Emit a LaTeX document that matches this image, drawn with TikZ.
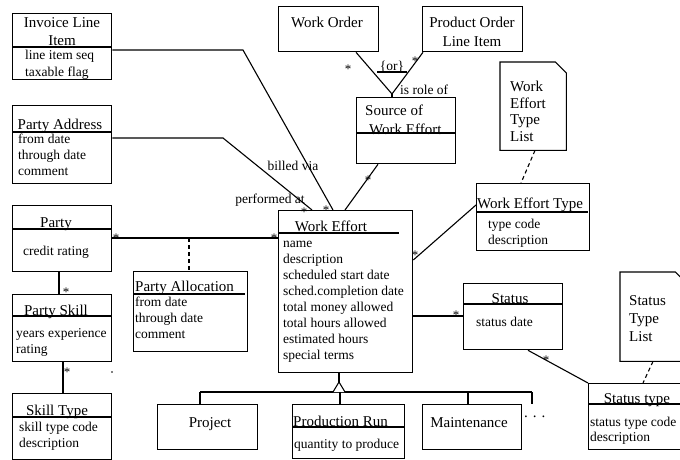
\documentclass[tikz,border=0pt]{standalone}
\usepackage{fontspec}
\setmainfont{Liberation Serif}
\usetikzlibrary{calc}
\begin{document}
\begin{tikzpicture}[x=1pt,y=-1pt,
  box/.style={draw, line width=1.3pt, anchor=north west, inner sep=0pt},
  ghost/.style={anchor=north west, inner sep=0pt},
  ttl/.style={font=\fontsize{15}{18}\selectfont, inner sep=0pt, anchor=base},
  ttlw/.style={font=\fontsize{15}{18}\selectfont, inner sep=0pt, anchor=base west},
  attr/.style={font=\fontsize{13.5}{16}\selectfont, inner sep=0pt, anchor=north west, align=left},
  lbl/.style={font=\fontsize{13.5}{16}\selectfont, inner sep=0pt, anchor=base},
  lnk/.style={line width=1.1pt},
  dsh/.style={line width=1.1pt, dash pattern=on 4pt off 3pt},
  mult/.style={font=\fontsize{13}{13}\selectfont, inner sep=0pt, anchor=base}]
\useasboundingbox (0,0) rectangle (680,460);

% ---------- boxes ----------
\node[box, minimum width=99pt, minimum height=66pt] (inv) at (12,13) {};
\draw[lnk] (inv.west |- 0,47) -- (inv.east |- 0,47);
\node[ttl] (invt1) at (62,28) {Invoice Line};
\node[ttl] (invt2) at (62,46) {Item};
\node[attr] (inva) at (25,47.8) {\strut line item seq\\[1pt]taxable flag};

\node[box, minimum width=99pt, minimum height=78pt] (pad) at (12,105) {};
\draw[lnk] (pad.west |- 0,132) -- (pad.east |- 0,132);
\node[ttl] (padt) at (60,129.5) {Party Address};
\node[attr] (pada) at (18,132) {\strut from date\\through date\\comment};

\node[box, minimum width=99pt, minimum height=66pt] (party) at (12,205) {};
\draw[lnk] (party.west |- 0,229) -- (party.east |- 0,229);
\node[ttl] (partyt) at (56,227) {Party};
\node[attr] (partya) at (23,243.8) {\strut credit rating};

\node[box, minimum width=99pt, minimum height=67pt] (pskill) at (12,294) {};
\draw[lnk] (pskill.west |- 0,316) -- (pskill.east |- 0,316);
\node[ttl] (pskillt) at (56,315) {Party Skill};
\node[attr] (pskilla) at (16,325.8) {\strut years experience\\rating};

\node[box, minimum width=99pt, minimum height=66pt] (stype) at (12,393) {};
\draw[lnk] (stype.west |- 0,417) -- (stype.east |- 0,417);
\node[ttl] (stypet) at (57,415) {Skill Type};
\node[attr] (stypea) at (19,419.8) {\strut skill type code\\description};

\node[box, minimum width=114pt, minimum height=80pt] (palloc) at (133,271) {};
\draw[lnk] (palloc.west |- 0,294) -- (245,294);
\node[ttlw] (pallct) at (135,291) {Party Allocation};
\node[attr] (pallca) at (135,294.8) {\strut from date\\through date\\comment};

\node[box, minimum width=100pt, minimum height=45pt] (wo) at (278,6) {};
\node[ttl] (wot) at (327,28) {Work Order};

\node[box, minimum width=100pt, minimum height=45pt] (pol) at (422,6) {};
\node[ttl] (polt1) at (472,28) {Product Order};
\node[ttl] (polt2) at (472,46.5) {Line Item};

\node[box, minimum width=99pt, minimum height=66pt] (src) at (356,97) {};
\draw[lnk] (src.west |- 0,133) -- (src.east |- 0,133);
\node[ttlw] (srct1) at (365,115) {Source of};
\node[ttlw] (srct2) at (369,134) {Work Effort};

\node[ghost, minimum width=66pt, minimum height=88pt] (wetl) at (500,62) {};
\draw[lnk] (wetl.north west) -- ($(wetl.north east)+(-11,0)$) -- ($(wetl.north east)+(0,11)$) -- (wetl.south east) -- (wetl.south west) -- cycle;
\node[ttlw] (wetl1) at (510,92) {Work};
\node[ttlw] (wetl2) at (510,108.3) {Effort};
\node[ttlw] (wetl3) at (510,124.6) {Type};
\node[ttlw] (wetl4) at (510,141) {List};

\node[box, minimum width=113pt, minimum height=67pt] (wet) at (476,183) {};
\draw[lnk] (wet.west |- 0,212) -- (588,212);
\node[ttlw] (wett) at (477,208) {Work Effort Type};
\node[attr] (weta) at (488,216.8) {\strut type code\\description};

\node[box, minimum width=134pt, minimum height=162pt] (we) at (278,210) {};
\draw[lnk] (we.west |- 0,233) -- (399,233);
\node[ttl] (wet1) at (331,231) {Work Effort};
\node[attr] (wea) at (283,235.8) {\strut name\\description\\scheduled start date\\sched.completion date\\total money allowed\\total hours allowed\\estimated hours\\special terms};

\node[box, minimum width=99pt, minimum height=66pt] (status) at (463,283) {};
\draw[lnk] (status.west |- 0,304) -- (status.east |- 0,304);
\node[ttl] (statust) at (510,303) {Status};
\node[attr] (statusa) at (476,314.8) {\strut status date};

\node[ghost, minimum width=66pt, minimum height=89pt] (stl) at (620,272) {};
\draw[lnk] (stl.north west) -- ($(stl.north east)+(-11,0)$) -- ($(stl.north east)+(0,11)$) -- (stl.south east) -- (stl.south west) -- cycle;
\node[ttlw] (stl1) at (629,305) {Status};
\node[ttlw] (stl2) at (629,323) {Type};
\node[ttlw] (stl3) at (629,341) {List};

\node[box, minimum width=98pt, minimum height=66pt] (sttype) at (588,383) {};
\draw[lnk] (sttype.west |- 0,404) -- (sttype.east |- 0,404);
\node[ttl] (sttypet) at (637,403) {Status type};
\node[attr] (sttypea) at (590,414.8) {\strut status type code\\[-1pt]description};

\node[box, minimum width=100pt, minimum height=45pt] (project) at (157,404) {};
\node[ttl] (projectt) at (210,427) {Project};

\node[box, minimum width=112pt, minimum height=54pt] (prun) at (292,404) {};
\draw[lnk] (prun.west |- 0,427) -- (prun.east |- 0,427);
\node[ttlw] (prunt) at (293,426) {Production Run};
\node[attr] (pruna) at (294,436.8) {\strut quantity to produce};

\node[box, minimum width=99pt, minimum height=45pt] (maint) at (422,404) {};
\node[ttl] (maintt) at (469,427) {Maintenance};

% ---------- connectors ----------
\draw[lnk] (inv.east |- 0,50) -- (243,50) -- (333,0 |- we.north);
\draw[lnk] (pad.east |- 0,138) -- (223,138) -- (312,0 |- we.north);
\draw[lnk] (party.east |- 0,238) -- (we.west |- 0,238);
\coordinate (pamid) at (189,238);
\draw[dsh] (pamid) -- (189,0 |- palloc.north);
\draw[lnk] (59,0 |- party.south) -- (59,0 |- pskill.north);
\draw[lnk] (63,0 |- pskill.south) -- (63,0 |- stype.north);

\coordinate (orjoin) at (392,94);
\draw[lnk] (356,0 |- wo.south) -- (orjoin);
\draw[lnk] (423,0 |- pol.south) -- (orjoin);
\draw[lnk] (orjoin) -- (392,0 |- src.north);
\coordinate (orl) at (377,72);
\coordinate (orr) at (407,72);
\draw[lnk] (orl) -- (orr);
\draw[lnk] (378,0 |- src.south) -- (345,0 |- we.north);

\draw[dsh] (535,0 |- wetl.south) -- (521,0 |- wet.north);
\draw[lnk] (we.east |- 0,260) -- (wet.west |- 0,205);
\draw[lnk] (we.east |- 0,316) -- (status.west |- 0,316);
\draw[lnk] (528,0 |- status.south) -- (sttype.north west);
\draw[dsh] (653,0 |- stl.south) -- (643,0 |- sttype.north);

% inheritance
\coordinate (tri) at (339,382);
\coordinate (hl) at (200,392);
\coordinate (hr) at (532,392);
\coordinate (more) at (532,404);
\draw[lnk] (339,0 |- we.south) -- (tri);
\draw[lnk] (hl) -- (hr);
\draw[lnk, fill=white] (333,392) -- (tri) -- (345,392);
\draw[lnk] (hl) -- (200,0 |- project.north);
\draw[lnk] (340,392) -- (340,0 |- prun.north);
\draw[lnk] (468,392) -- (468,0 |- maint.north);
\draw[lnk] (hr) -- (more);
\node[ttlw] (dots) at (524,417) {. . .};

% ---------- labels ----------
\node[lbl] (billed) at (293,170) {billed via};
\node[lbl] (perf) at (270,203) {performed at};
\node[lbl, anchor=base west] (role) at (400,95) {is role of};
\node[lbl] (orlbl) at (392,70.5) {\{or\}};

\node[mult] (m1) at (304,216) {*};
\node[mult] (m2) at (326,214) {*};
\node[mult] (m3) at (116,242) {*};
\node[mult] (m4) at (274,242) {*};
\node[mult] (m5) at (66,296) {*};
\node[mult] (m6) at (67,376) {*};
\node[mult] (m7) at (348,74) {*};
\node[mult] (m8) at (415,66) {*};
\node[mult] (m9) at (368,184) {*};
\node[mult] (m10) at (415,259) {*};
\node[mult] (m11) at (456,319) {*};
\node[mult] (m12) at (546,364) {*};

\node[circle, fill, inner sep=0pt, minimum size=1.8pt] (stray) at (112,372) {};
\end{tikzpicture}
\end{document}
